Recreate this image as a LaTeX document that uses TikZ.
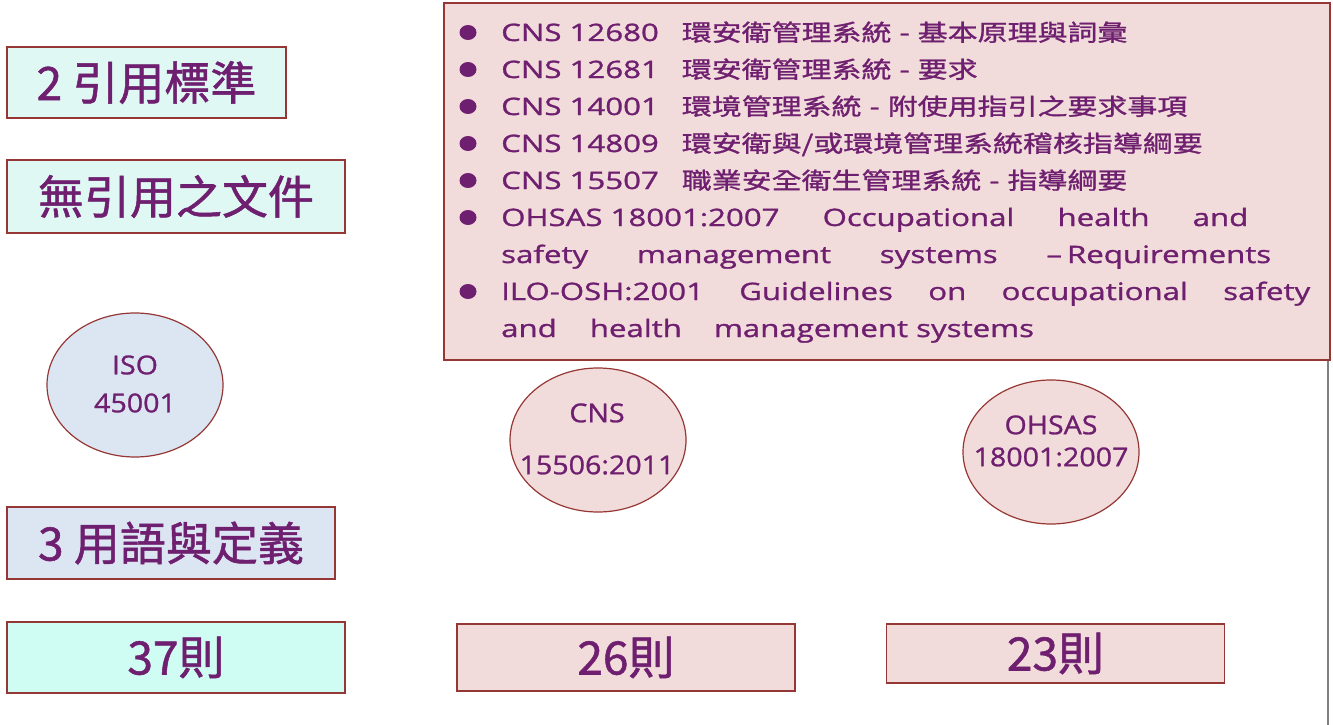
\documentclass[tikz,border=0pt]{standalone}
\usepackage{fontspec}
\setmainfont{Open Sans}
\newfontfamily\cjk{Noto Sans CJK TC}[FakeBold=1.2]
\newfontfamily\listfont{Open Sans}[FakeStretch=1.3,FakeBold=1.2]
\newfontfamily\listcjk{Noto Sans CJK TC}[FakeStretch=1.3,FakeBold=1.2,Scale=0.96]
\newfontfamily\ellfont{Open Sans}[FakeStretch=1.1,FakeBold=1]
\newcommand{\lc}[1]{{\listcjk #1}}
\usetikzlibrary{shapes.geometric}
\definecolor{txtpurple}{HTML}{6F1F6F}
\definecolor{boxred}{HTML}{953735}
\definecolor{aqua}{HTML}{E0F8F4}
\definecolor{aquadeep}{HTML}{CFFCF3}
\definecolor{greyblue}{HTML}{DCE6F2}
\definecolor{rosy}{HTML}{F2DCDB}
\begin{document}
\begin{tikzpicture}
  [x=1pt,y=-1pt,
   every node/.style={text=txtpurple,inner sep=0pt},
   titlebox/.style={draw=boxred,line width=1.8pt,font=\cjk\fontsize{46}{50}\selectfont},
   stdell/.style={ellipse,draw=boxred,line width=1.2pt,fill=rosy,minimum width=176pt,minimum height=144pt},
   elltext/.style={font=\ellfont\fontsize{26}{30}\selectfont,align=center},
   listline/.style={anchor=base west,font=\listfont\fontsize{24}{37}\selectfont}]
  \useasboundingbox[fill=white] (0,0) rectangle (1333,725);

  \node (ref) [titlebox,fill=aqua,minimum width=279pt,minimum height=71pt] at (146.5,82.5) {2 引用標準};
  \node (none) [titlebox,fill=aqua,minimum width=338pt,minimum height=73pt] at (176,196.5) {無引用之文件};
  \node (terms) [titlebox,fill=greyblue,minimum width=328pt,minimum height=72pt] at (171,543) {3 用語與定義};
  \node (iso37) [titlebox,fill=aquadeep,minimum width=338pt,minimum height=71pt] at (176,657.5) {37則};
  \node (cns26) [titlebox,fill=rosy,minimum width=338pt,minimum height=67pt] at (626,657.5) {26則};
  \node (ohsas23) [titlebox,fill=rosy,minimum width=338pt,minimum height=59pt] at (1055.5,653.5) {23則};

  \node (listbox) [draw=boxred,line width=1.8pt,fill=rosy,minimum width=886pt,minimum height=357pt] at (887,181.5) {};
  \foreach \y in {41,78,115,152,189,226,300}
    \fill[txtpurple] (468,\y-8.5) ellipse [x radius=8.5,y radius=7.5];
  \foreach \txt [count=\i] in {
      {CNS 12680\hspace{23pt}\lc{環安衛管理系統} - \lc{基本原理與詞彙}},
      {CNS 12681\hspace{23pt}\lc{環安衛管理系統} - \lc{要求}},
      {CNS 14001\hspace{23pt}\lc{環境管理系統} - \lc{附使用指引之要求事項}},
      {CNS 14809\hspace{23pt}\lc{環安衛與/或環境管理系統稽核指導綱要}},
      {CNS 15507\hspace{23pt}\lc{職業安全衛生管理系統} - \lc{指導綱要}},
      {\makebox[747pt][s]{\mbox{OHSAS 18001:2007} Occupational health and}},
      {\makebox[770pt][s]{safety management systems \mbox{–\hspace{5pt}Requirements}}},
      {\makebox[809pt][s]{ILO-OSH:2001 Guidelines on occupational safety}},
      {and\hspace{33pt}health\hspace{32pt}management systems}}
    \node (l\i) [listline] at (501,4+37*\i) {\txt};

  \node (iso) [stdell,fill=greyblue] at (135,385) {};
  \node (isolbl) [elltext] at (135,384) {ISO\\[8pt]45001};
  \node (cns) [stdell] at (598,440) {};
  \node (cnslbl) [elltext] at (597,439) {CNS\\[22pt]15506:2011};
  \node (ohsas) [stdell] at (1051,452) {};
  \node (ohsaslbl) [elltext] at (1051,441) {OHSAS\\[2pt]18001:2007};

  \coordinate (rim) at (1328,725);
  \draw[gray,line width=1.2pt] (listbox.south east -| rim) -- (rim);
\end{tikzpicture}
\end{document}
